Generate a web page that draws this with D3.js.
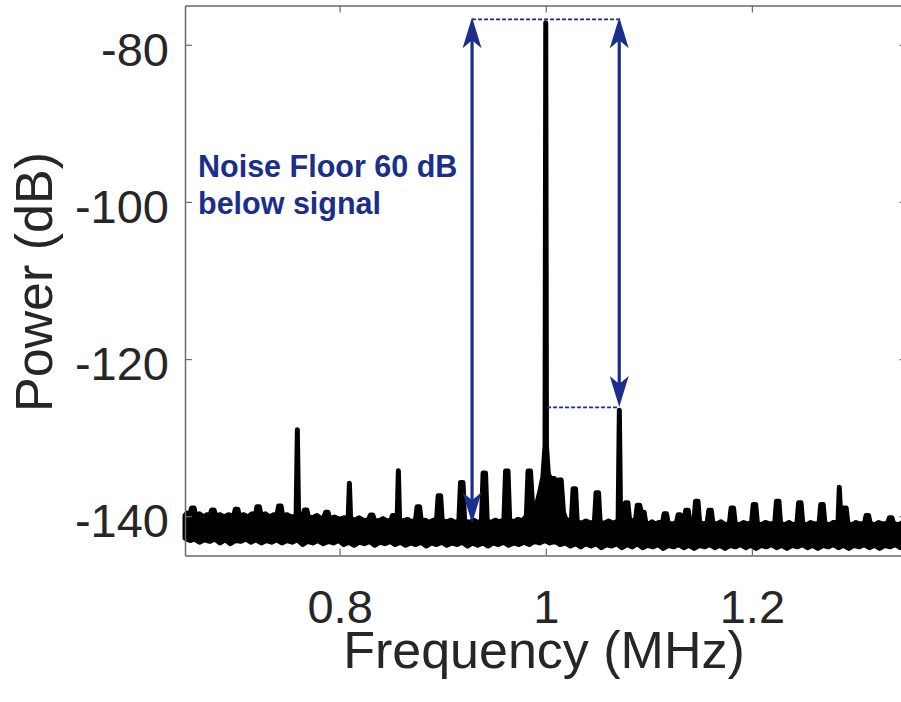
<!DOCTYPE html>
<html><head><meta charset="utf-8">
<script src="https://cdn.jsdelivr.net/npm/d3@7"></script>
<style>body{margin:0;background:#fff}svg{display:block}text{font-family:"Liberation Sans",Arial,Helvetica,sans-serif}</style>
</head><body><svg id="chart" width="901" height="702"></svg>
<script>
// ---- data ----
const xTicks = [0.8, 1, 1.2];
const yTicks = [-140, -120, -100, -80];
const xDomain = [0.65, 1.35];
const yDomain = [-145, -75];

// upper edge of the measured spectrum trace [MHz, dB]
const traceUpper = [
 [0.650,-139.9],[0.652,-139.6],[0.6548,-139.7],[0.6564,-138.95],[0.6588,-138.95],[0.6604,-139.9],[0.664,-139.7],[0.668,-140.1],[0.671,-139.8],
 [0.6742,-139.9],[0.6758,-139.2],[0.6782,-139.2],[0.6798,-140.0],[0.684,-139.8],[0.688,-140.1],[0.692,-139.8],[0.6972,-140.0],
 [0.6988,-139.1],[0.7012,-139.1],[0.7028,-140.0],[0.707,-139.8],[0.711,-140.1],[0.715,-139.7],[0.7182,-139.9],[0.7198,-138.8],
 [0.7222,-138.8],[0.7238,-139.9],[0.728,-139.7],[0.732,-140.1],[0.736,-139.8],[0.7392,-139.9],[0.7408,-138.7],[0.7432,-138.7],
 [0.7448,-140.0],[0.749,-139.8],[0.753,-140.1],[0.7578,-140.0],[0.759,-129.0],[0.7602,-140.0],[0.762,-139.9],[0.7642,-140.0],
 [0.7658,-139.2],[0.7682,-139.2],[0.7698,-140.1],[0.774,-140.2],[0.778,-139.9],[0.782,-140.3],[0.7848,-140.1],[0.7864,-139.5],
 [0.7888,-139.5],[0.7904,-140.3],[0.795,-140.1],[0.800,-140.4],[0.804,-140.2],[0.8083,-140.3],[0.8095,-135.8],[0.8107,-140.3],
 [0.815,-140.5],[0.819,-140.2],[0.824,-140.6],[0.8282,-140.4],[0.8298,-139.85],[0.8322,-139.85],[0.8338,-140.5],[0.838,-140.6],
 [0.842,-140.3],[0.846,-140.6],[0.850,-140.5],[0.8512,-139.9],[0.8528,-139.9],[0.8558,-140.5],[0.857,-134.2],[0.8582,-140.5],
 [0.862,-140.6],[0.866,-140.4],[0.870,-140.7],[0.8736,-140.5],[0.8752,-138.8],[0.8776,-138.8],[0.8792,-140.6],[0.883,-140.5],
 [0.887,-140.8],[0.891,-140.5],[0.8940,-140.6],[0.8956,-137.4],[0.8980,-137.4],[0.8996,-140.6],[0.904,-140.7],[0.908,-140.5],
 [0.912,-140.8],[0.9157,-140.6],[0.9173,-135.7],[0.9197,-135.7],[0.9213,-140.6],[0.926,-140.8],[0.930,-140.5],[0.934,-140.8],
 [0.9376,-140.6],[0.9392,-134.5],[0.9416,-134.5],[0.9432,-140.6],[0.947,-140.8],[0.951,-140.5],[0.955,-140.7],[0.9594,-140.5],
 [0.9610,-134.25],[0.9634,-134.25],[0.9650,-140.5],[0.969,-140.7],[0.973,-140.4],[0.977,-140.6],[0.9812,-140.0],[0.9828,-134.25],
 [0.9852,-134.25],[0.9875,-139.3],[0.991,-138.6],[0.994,-137.0],[0.9972,-135.0],[0.9993,-131.0],[1.000,-77.2],[1.0007,-131.0],
 [1.0025,-134.6],[1.0045,-135.2],[1.0085,-135.2],[1.0105,-136.0],[1.0125,-135.4],[1.015,-135.4],[1.0172,-139.5],[1.020,-140.6],
 [1.0249,-140.4],[1.0265,-136.5],[1.0289,-136.5],[1.0305,-140.7],[1.035,-140.9],[1.039,-140.6],[1.043,-140.9],[1.0472,-140.7],
 [1.0488,-137.0],[1.0512,-137.0],[1.0528,-140.8],[1.057,-140.9],[1.061,-140.6],[1.065,-140.9],[1.0702,-140.6],[1.0714,-126.5],
 [1.0726,-140.0],[1.0757,-139.6],[1.0773,-138.3],[1.0797,-138.3],[1.0813,-140.4],[1.0845,-140.7],[1.0872,-140.3],[1.0888,-138.6],
 [1.0912,-138.6],[1.0925,-139.5],[1.0955,-139.5],[1.0970,-140.8],[1.1005,-141.0],[1.1030,-140.7],[1.106,-141.0],[1.1095,-140.8],
 [1.1132,-140.9],[1.1148,-139.7],[1.1172,-139.7],[1.1188,-140.9],[1.123,-141.0],[1.1268,-140.8],[1.1284,-139.8],[1.1306,-139.8],
 [1.1324,-140.6],[1.1342,-140.5],[1.1358,-139.25],[1.1382,-139.25],[1.1398,-140.7],[1.1437,-140.8],[1.1453,-138.1],[1.1477,-138.1],
 [1.1493,-140.8],[1.1530,-141.0],[1.1566,-140.8],[1.1582,-139.25],[1.1606,-139.25],[1.1622,-140.9],[1.166,-141.0],[1.170,-140.7],
 [1.174,-141.1],[1.1782,-140.9],[1.1798,-138.95],[1.1822,-138.95],[1.1838,-140.9],[1.188,-141.1],[1.192,-140.8],[1.196,-141.0],
 [1.1997,-140.8],[1.2013,-138.5],[1.2037,-138.5],[1.2053,-140.9],[1.209,-141.1],[1.213,-140.8],[1.218,-141.0],[1.2222,-140.9],
 [1.2238,-138.1],[1.2262,-138.1],[1.2278,-140.9],[1.232,-141.1],[1.236,-140.8],[1.240,-141.1],[1.2437,-140.9],[1.2453,-138.3],
 [1.2477,-138.3],[1.2493,-140.9],[1.253,-141.1],[1.257,-140.8],[1.261,-141.0],[1.2652,-140.9],[1.2668,-138.5],[1.2692,-138.5],
 [1.2708,-140.9],[1.275,-141.1],[1.279,-140.8],[1.2836,-140.7],[1.2848,-136.3],[1.2862,-140.0],[1.2885,-138.95],[1.2915,-138.95],
 [1.2931,-140.9],[1.297,-141.1],[1.301,-140.8],[1.305,-141.0],[1.3092,-140.9],[1.3108,-139.9],[1.3132,-139.9],[1.3148,-140.9],
 [1.319,-141.1],[1.323,-140.8],[1.327,-141.0],[1.3318,-140.9],[1.3334,-140.2],[1.3358,-140.2],[1.3374,-140.9],[1.342,-141.1],
 [1.346,-140.8],[1.350,-141.0]
];
// lower edge of the measured spectrum trace [MHz, dB]
const traceLower = [
 [0.650,-142.8],[0.655,-143.1],[0.659,-142.9],[0.664,-143.3],[0.669,-143.0],[0.674,-143.2],[0.679,-142.9],[0.684,-143.4],
 [0.689,-143.0],[0.694,-143.5],[0.699,-143.1],[0.704,-143.2],[0.709,-142.9],[0.714,-143.3],[0.719,-143.0],[0.724,-143.4],
 [0.729,-143.1],[0.734,-143.3],[0.739,-143.0],[0.744,-143.4],[0.749,-143.1],[0.754,-143.3],[0.759,-143.0],[0.764,-143.6],
 [0.769,-143.2],[0.774,-143.4],[0.779,-143.1],[0.784,-143.5],[0.789,-143.2],[0.794,-143.4],[0.799,-143.1],[0.804,-143.6],
 [0.809,-143.3],[0.814,-143.7],[0.819,-143.3],[0.824,-143.5],[0.829,-143.2],[0.834,-143.7],[0.839,-143.3],[0.844,-143.5],
 [0.849,-143.2],[0.854,-143.6],[0.859,-143.3],[0.864,-143.7],[0.869,-143.4],[0.874,-143.6],[0.879,-143.3],[0.884,-143.8],
 [0.889,-143.4],[0.894,-143.6],[0.899,-143.3],[0.904,-143.7],[0.909,-143.4],[0.914,-143.6],[0.919,-143.3],[0.924,-143.8],
 [0.929,-143.4],[0.934,-143.7],[0.939,-143.4],[0.944,-143.8],[0.949,-143.4],[0.954,-143.6],[0.959,-143.3],[0.964,-143.7],
 [0.969,-143.4],[0.974,-143.6],[0.979,-143.3],[0.984,-143.6],[0.989,-143.2],[0.994,-143.4],[0.999,-143.1],[1.004,-143.4],
 [1.009,-143.2],[1.014,-143.6],[1.019,-143.4],[1.024,-143.8],[1.029,-143.5],[1.034,-143.9],[1.039,-143.5],[1.044,-143.8],
 [1.049,-143.5],[1.054,-144.0],[1.059,-143.6],[1.064,-143.8],[1.069,-143.5],[1.074,-144.0],[1.079,-143.6],[1.084,-143.9],
 [1.089,-143.5],[1.094,-144.0],[1.099,-143.7],[1.104,-143.9],[1.109,-143.6],[1.114,-144.1],[1.119,-143.7],[1.124,-143.9],
 [1.129,-143.6],[1.134,-144.0],[1.139,-143.7],[1.144,-144.1],[1.149,-143.7],[1.154,-143.9],[1.159,-143.6],[1.164,-144.0],
 [1.169,-143.7],[1.174,-144.1],[1.179,-143.7],[1.184,-143.9],[1.189,-143.6],[1.194,-144.0],[1.199,-143.7],[1.204,-144.1],
 [1.209,-143.7],[1.214,-143.9],[1.219,-143.6],[1.224,-144.0],[1.229,-143.7],[1.234,-144.1],[1.239,-143.7],[1.244,-143.9],
 [1.249,-143.6],[1.254,-144.0],[1.259,-143.7],[1.264,-144.1],[1.269,-143.7],[1.274,-143.9],[1.279,-143.6],[1.284,-144.0],
 [1.289,-143.7],[1.294,-144.1],[1.299,-143.7],[1.304,-143.9],[1.309,-143.6],[1.314,-144.0],[1.319,-143.7],[1.324,-144.1],
 [1.329,-143.7],[1.334,-143.9],[1.339,-143.6],[1.344,-144.0],[1.350,-143.7]
];

// annotation: double arrows and dashed guides (data units)
const arrowFreq = [0.9285, 1.0713];
const arrowTopDb = [-76.5, -76.5];
const arrowBottomDb = [-140.9, -126.1];
const guideStartFreq = [0.9285, 1.0013];
const guideEndFreq = [1.0713, 1.0713];
const guideDb = [-76.77, -126.14];
const noteLines = ["Noise Floor 60 dB", "below signal"];

// ---- drawing ----
const svg = d3.select("#chart");
const L = 185, R = 906.5, T = 5.5, B = 555.5;
const x = d3.scaleLinear().domain(xDomain).range([L, R]);
const y = d3.scaleLinear().domain(yDomain).range([B, T]);
const axisColor = "#6a6a6a", textColor = "#262626", navy = "#1b2e8c";

svg.append("defs").append("clipPath").attr("id", "clip")
  .append("rect").attr("x", L - 3).attr("y", T).attr("width", R - L + 3).attr("height", B - T);

// spectrum trace
const poly = traceUpper.concat(traceLower.slice().reverse());
const line = d3.line().x(d => x(d[0])).y(d => y(d[1]));
svg.append("path").attr("clip-path", "url(#clip)")
  .attr("d", line(poly) + "Z")
  .attr("fill", "#000").attr("stroke", "#000")
  .attr("stroke-width", 5).attr("stroke-linejoin", "round");

// axes (box with inward ticks)
function styleAxis(g) {
  g.selectAll(".domain").attr("stroke", axisColor).attr("stroke-width", 1.5);
  g.selectAll(".tick line").attr("stroke", axisColor).attr("stroke-width", 1.2);
}
const fmt = d => String(d);
const gB = svg.append("g").attr("transform", `translate(0,${B})`)
  .call(d3.axisBottom(x).tickValues(xTicks).tickSizeInner(-7).tickSizeOuter(0).tickFormat(fmt));
const gT = svg.append("g").attr("transform", `translate(0,${T})`)
  .call(d3.axisTop(x).tickValues(xTicks).tickSizeInner(-7).tickSizeOuter(0).tickFormat(""));
const gL = svg.append("g").attr("transform", `translate(${L},0)`)
  .call(d3.axisLeft(y).tickValues(yTicks).tickSizeInner(-7).tickSizeOuter(0).tickFormat(fmt));
const gR = svg.append("g").attr("transform", `translate(${R},0)`)
  .call(d3.axisRight(y).tickValues(yTicks).tickSizeInner(-7).tickSizeOuter(0).tickFormat(""));
[gB, gT, gL, gR].forEach(styleAxis);

gB.selectAll(".tick text").attr("y", 67.5).attr("dy", null)
  .attr("fill", textColor).attr("font-size", 47).attr("font-family", '"Liberation Sans",Arial,sans-serif');
gL.selectAll(".tick text").attr("x", -16).attr("dy", null).attr("y", 20.5)
  .attr("fill", textColor).attr("font-size", 47).attr("font-family", '"Liberation Sans",Arial,sans-serif');

// axis titles
svg.append("text").attr("x", 544).attr("y", 668).attr("text-anchor", "middle")
  .attr("font-size", 52).attr("fill", textColor).text("Frequency (MHz)");
svg.append("text").attr("transform", "translate(52,282) rotate(-90)").attr("text-anchor", "middle")
  .attr("font-size", 52).attr("fill", textColor).text("Power (dB)");

// dashed guides
svg.selectAll(".guide").data(guideDb).enter().append("line")
  .attr("x1", (d, i) => x(guideStartFreq[i])).attr("x2", (d, i) => x(guideEndFreq[i]))
  .attr("y1", d => y(d)).attr("y2", d => y(d))
  .attr("stroke", navy).attr("stroke-width", 1.7).attr("stroke-dasharray", "4,2");

// double arrows
function head(xt, yt, dir) { // dir = 1 pointing down, -1 pointing up
  const w = 9.5, len = 31, notch = 23;
  return `M${xt},${yt}L${xt + w},${yt - dir * len}L${xt},${yt - dir * notch}L${xt - w},${yt - dir * len}Z`;
}
arrowFreq.forEach((f, i) => {
  const xa = x(f), yt = y(arrowTopDb[i]), yb = y(arrowBottomDb[i]);
  svg.append("line").attr("x1", xa).attr("x2", xa).attr("y1", yt + 15).attr("y2", yb - 15)
    .attr("stroke", navy).attr("stroke-width", 3.2);
  svg.append("path").attr("d", head(xa, yt, -1)).attr("fill", navy);
  svg.append("path").attr("d", head(xa, yb, 1)).attr("fill", navy);
});

// note text
svg.selectAll(".note").data(noteLines).enter().append("text")
  .attr("x", 198).attr("y", (d, i) => 177.3 + i * 36.7)
  .attr("font-size", 30.5).attr("font-weight", "bold").attr("fill", navy).text(d => d);
</script></body></html>
